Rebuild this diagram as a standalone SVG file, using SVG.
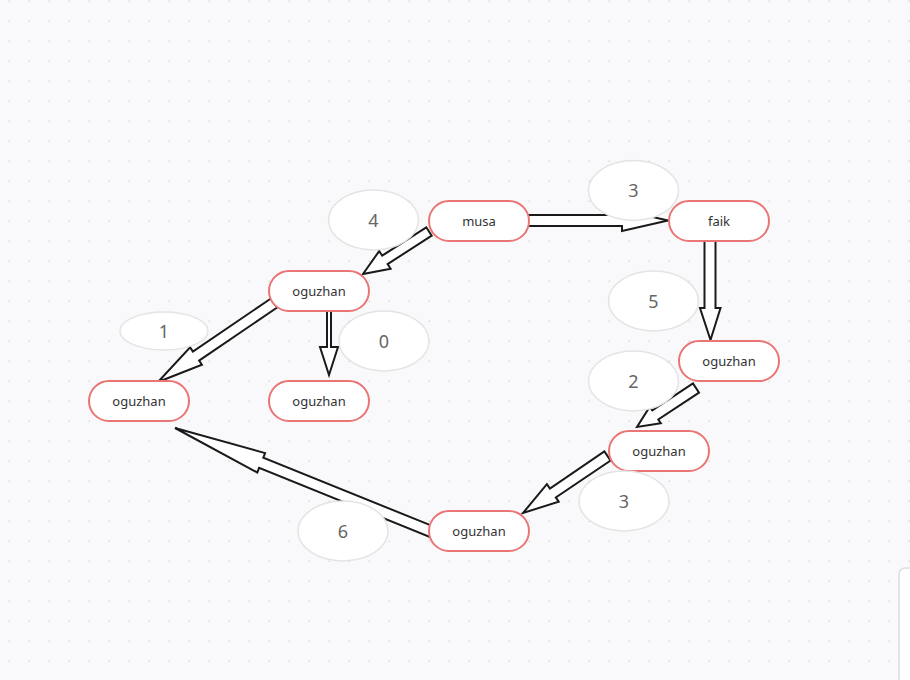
<svg xmlns="http://www.w3.org/2000/svg" width="910" height="680" viewBox="0 0 910 680">
<style>
.node rect{fill:#ffffff;stroke:#ea7575;stroke-width:2}
.node text{font-family:"Noto Sans",sans-serif;font-size:13px;fill:#333333;text-anchor:middle}
.lbl ellipse{fill:#ffffff;stroke:#e4e4e4;stroke-width:1.5}
.lbl text{font-family:"Noto Sans",sans-serif;font-size:18px;fill:#666666;text-anchor:middle}
.arrow{fill:#ffffff;stroke:#1a1a1a;stroke-width:2;stroke-linejoin:miter}
</style>
<defs>
<pattern id="dots" x="0" y="0" width="20" height="20" patternUnits="userSpaceOnUse">
<rect x="8.5" y="0.5" width="1.5" height="1.5" fill="#d9d9de"/>
</pattern>
</defs>
<rect width="910" height="680" fill="#f9f9fb"/>
<rect width="910" height="680" fill="url(#dots)"/>
<g id="connectors">
<polygon class="arrow" points="528,215 622,215 622,210 668,220.5 622,231 622,226 528,226"/>
<polygon class="arrow" points="704.5,241 715.5,241 715.5,308 720.5,308 710.5,340 700,308 704.5,308"/>
<polygon class="arrow" points="327,311 331,311 331,347 338,347 329,375 320,347 327,347"/>
<polygon class="arrow" points="426.3,227.3 382.2,255.7 379.2,251.1 363,274 390.6,268.7 387.6,264.1 431.7,235.7"/>
<polygon class="arrow" points="270.9,298.5 192.9,351.6 190.1,347.4 158,382 201.9,364.8 199.1,360.6 277.1,307.5"/>
<polygon class="arrow" points="693,383.4 652.3,410.3 649.8,406.6 637,427 660.8,423.2 658.3,419.5 699,392.6"/>
<polygon class="arrow" points="604.4,451.4 549.9,488.6 546.9,484.2 523,513 558.7,501.6 555.8,497.4 610.6,460.6"/>
<polygon class="arrow" points="434.6,526.9 263.3,457.7 265.1,453.1 175,428 257.3,472.5 259.1,467.9 430.4,537.1"/>
</g>
<g id="node-musa" class="node"><rect x="429" y="201" width="100" height="40" rx="20"/><text x="479" y="225.5">musa</text></g>
<g id="node-faik" class="node"><rect x="669" y="201" width="100" height="40" rx="20"/><text x="719" y="225.5">faik</text></g>
<g id="node-oguzhan1" class="node"><rect x="269" y="271" width="100" height="40" rx="20"/><text x="319" y="295.5">oguzhan</text></g>
<g id="node-oguzhan-left" class="node"><rect x="89" y="381" width="100" height="40" rx="20"/><text x="139" y="405.5">oguzhan</text></g>
<g id="node-oguzhan-mid" class="node"><rect x="269" y="381" width="100" height="40" rx="20"/><text x="319" y="405.5">oguzhan</text></g>
<g id="node-oguzhan-right" class="node"><rect x="679" y="341" width="100" height="40" rx="20"/><text x="729" y="365.5">oguzhan</text></g>
<g id="node-oguzhan2" class="node"><rect x="609" y="431" width="100" height="40" rx="20"/><text x="659" y="455.5">oguzhan</text></g>
<g id="node-oguzhan-bottom" class="node"><rect x="429" y="511" width="100" height="40" rx="20"/><text x="479" y="535.5">oguzhan</text></g>
<g id="label-4" class="lbl"><ellipse cx="373.5" cy="220" rx="45" ry="30"/><text x="373.5" y="226.5">4</text></g>
<g id="label-3a" class="lbl"><ellipse cx="633.5" cy="190.5" rx="45" ry="30"/><text x="633.5" y="197">3</text></g>
<g id="label-5" class="lbl"><ellipse cx="653.5" cy="301" rx="45" ry="30"/><text x="653.5" y="307.5">5</text></g>
<g id="label-1" class="lbl"><ellipse cx="164" cy="331" rx="44" ry="19"/><text x="164" y="337.5">1</text></g>
<g id="label-0" class="lbl"><ellipse cx="384" cy="341" rx="45" ry="30"/><text x="384" y="347.5">0</text></g>
<g id="label-2" class="lbl"><ellipse cx="633.5" cy="381" rx="45" ry="30"/><text x="633.5" y="387.5">2</text></g>
<g id="label-3b" class="lbl"><ellipse cx="624" cy="501" rx="45" ry="30"/><text x="624" y="507.5">3</text></g>
<g id="label-6" class="lbl"><ellipse cx="343" cy="531" rx="45" ry="30"/><text x="343" y="537.5">6</text></g>
<rect x="899" y="568" width="30" height="130" rx="6" fill="#ffffff" stroke="#dedede" stroke-width="1.5"/>
</svg>
